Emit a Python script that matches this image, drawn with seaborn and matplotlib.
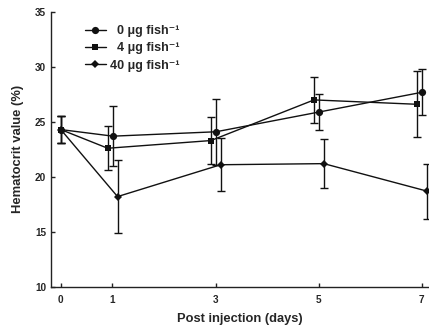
import numpy as np
import pandas as pd
import matplotlib
matplotlib.use("Agg")
import matplotlib.pyplot as plt
import seaborn as sns

# Sampling days after injection
days = [0, 1, 3, 5, 7]
tick_labels = ["0", "1", "3", "5", "7"]

# Mean hematocrit (%) and standard error for each dose group
hct_0 = [24.3, 23.7, 24.1, 25.9, 27.7]
se_0 = [1.2, 2.7, 3.0, 1.6, 2.1]
hct_4 = [24.3, 22.6, 23.3, 27.0, 26.6]
se_4 = [1.2, 2.0, 2.1, 2.1, 3.0]
hct_40 = [24.3, 18.2, 21.1, 21.2, 18.7]
se_40 = [1.2, 3.3, 2.4, 2.2, 2.5]

groups = ["0", "4", "40"]
labels = ["\u2007" + "0 \u03bcg fish\u207b\u00b9",
          "\u2007" + "4 \u03bcg fish\u207b\u00b9",
          "40 \u03bcg fish\u207b\u00b9"]

sns.set_style("ticks")
plt.rcParams["font.family"] = ["Liberation Sans", "DejaVu Sans"]
plt.rcParams["font.weight"] = "bold"

# horizontal nudge so overlapping error bars stay readable (none on day 0)
nudge = {"0": 0.01, "4": -0.09, "40": 0.10}
markers = {"0": "o", "4": "s", "40": "D"}
msize = {"0": 5.2, "4": 4.6, "40": 4.2}

frames = []
for g, m, s in zip(groups, [hct_0, hct_4, hct_40], [se_0, se_4, se_40]):
    d = np.array(days, dtype=float)
    x = d + np.where(d == 0, 0.0, nudge[g])
    frames.append(pd.DataFrame({"day": x, "hct": m, "se": s, "dose": g}))
df = pd.concat(frames, ignore_index=True)

W, H = 429, 331
fig = plt.figure(figsize=(W / 100, H / 100), dpi=100)
ax_left, ax_bottom = 50.5 / W, (H - 286.7) / H
ax_w, ax_h = (51.57 * 7.5) / W, 274.7 / H
ax = fig.add_axes([ax_left, ax_bottom, ax_w, ax_h])

for g, lab in zip(groups, labels):
    sub = df[df["dose"] == g]
    ax.errorbar(sub["day"], sub["hct"], yerr=sub["se"], fmt="none",
                ecolor="#111111", elinewidth=1.0, capsize=2.6, capthick=1.0,
                zorder=2)
    sns.lineplot(data=sub, x="day", y="hct", ax=ax, color="#111111",
                 marker=markers[g], markersize=msize[g], markeredgewidth=0,
                 linewidth=1.0, label=lab, estimator=None, sort=True,
                 zorder=3)

ax.set_xlim(-0.2, 7.3)
ax.set_ylim(10, 35)
ax.set_xticks(days)
ax.set_xticklabels(tick_labels)
ax.set_yticks([10, 15, 20, 25, 30, 35])
ax.tick_params(direction="in", length=3, width=1.0, labelsize=7.2,
               color="#222222")
ax.tick_params(axis="x", pad=6)
ax.tick_params(axis="y", pad=3)
for t in ax.get_xticklabels() + ax.get_yticklabels():
    t.set_fontweight("bold")
sns.despine(ax=ax)
for sp in ["left", "bottom"]:
    ax.spines[sp].set_linewidth(1.0)
    ax.spines[sp].set_color("#222222")

ax.set_xlabel("Post injection (days)", fontsize=9.3, fontweight="bold",
              labelpad=6)
ax.set_ylabel("Hematocrit value (%)", fontsize=9.4, fontweight="bold",
              labelpad=8)
ax.xaxis.set_label_coords((240 - 50.5) / (51.57 * 7.5), -0.095)

leg = ax.legend(loc="upper left", bbox_to_anchor=(0.088, 0.952),
                frameon=False, borderaxespad=0, borderpad=0,
                handlelength=1.75, handletextpad=0.25, labelspacing=0.42,
                prop={"family": ["Liberation Sans", "DejaVu Sans"],
                      "weight": "bold", "size": 9})

fig.savefig("out.png", dpi=100)
